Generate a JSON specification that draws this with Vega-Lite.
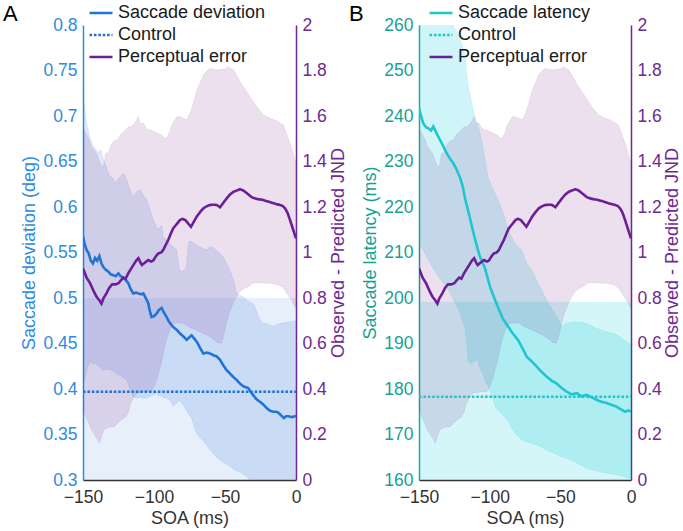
{
  "$schema": "https://vega.github.io/schema/vega-lite/v6.json",
  "padding": {"left": 3, "top": 0, "right": 0, "bottom": 0},
  "spacing": 123,
  "bounds": "flush",
  "config": {
    "font": "Liberation Sans",
    "view": {"stroke": null},
    "axis": {"labelFontSize": 17.5, "titleFontSize": 18, "titleFontWeight": "normal", "ticks": false, "grid": false, "domainWidth": 1.5, "labelPadding": 6, "labelOverlap": false, "labelFlush": false, "labelBound": false},
    "legend": {"orient": "none", "padding": 0, "offset": 0, "labelFontSize": 18, "labelColor": "#1a1a1a", "symbolSize": 529, "symbolStrokeWidth": 2.6, "rowPadding": -3, "labelOffset": 4, "titleOrient": "left", "titleAnchor": "start", "titleBaseline": "line-top", "titleLineHeight": 30, "titleFontSize": 22, "titleFontWeight": "normal", "titleColor": "#000"}
  },
  "resolve": {"scale": {"color": "independent", "strokeDash": "independent"}, "legend": {"color": "independent", "strokeDash": "independent"}},
  "datasets": {
    "ctrlBandA": [{"soa": -150, "lo": 0.294, "hi": 0.5}, {"soa": 0, "lo": 0.294, "hi": 0.5}],
    "ctrlA": [{"soa": -150, "value": 0.397, "series": "Control"}, {"soa": 0, "value": 0.397, "series": "Control"}],
    "ctrlBandB": [{"soa": -150, "lo": 157.4, "hi": 199.2}, {"soa": 0, "lo": 157.4, "hi": 199.2}],
    "ctrlB": [{"soa": -150, "value": 178.3, "series": "Control"}, {"soa": 0, "value": 178.3, "series": "Control"}],
    "devA": [
      {"soa": -150, "value": 0.568, "series": "Saccade deviation"}, {"soa": -149, "value": 0.56, "series": "Saccade deviation"}, {"soa": -147.5, "value": 0.553, "series": "Saccade deviation"}, {"soa": -146, "value": 0.549, "series": "Saccade deviation"}, {"soa": -144.5, "value": 0.541, "series": "Saccade deviation"}, {"soa": -143, "value": 0.538, "series": "Saccade deviation"}, {"soa": -141.5, "value": 0.544, "series": "Saccade deviation"}, {"soa": -140, "value": 0.541, "series": "Saccade deviation"}, {"soa": -138.5, "value": 0.546, "series": "Saccade deviation"}, {"soa": -137, "value": 0.538, "series": "Saccade deviation"}, {"soa": -135.7, "value": 0.534, "series": "Saccade deviation"}, {"soa": -134, "value": 0.531, "series": "Saccade deviation"}, {"soa": -132.2, "value": 0.529, "series": "Saccade deviation"}, {"soa": -130.5, "value": 0.526, "series": "Saccade deviation"}, {"soa": -128.7, "value": 0.525, "series": "Saccade deviation"}, {"soa": -127, "value": 0.524, "series": "Saccade deviation"}, {"soa": -125.1, "value": 0.527, "series": "Saccade deviation"}, {"soa": -123.5, "value": 0.524, "series": "Saccade deviation"}, {"soa": -121.6, "value": 0.522, "series": "Saccade deviation"}, {"soa": -120, "value": 0.52, "series": "Saccade deviation"}, {"soa": -118, "value": 0.516, "series": "Saccade deviation"}, {"soa": -116.5, "value": 0.51, "series": "Saccade deviation"}, {"soa": -114.6, "value": 0.505, "series": "Saccade deviation"}, {"soa": -112.5, "value": 0.506, "series": "Saccade deviation"}, {"soa": -111, "value": 0.505, "series": "Saccade deviation"}, {"soa": -109, "value": 0.504, "series": "Saccade deviation"}, {"soa": -107.5, "value": 0.505, "series": "Saccade deviation"}, {"soa": -105.5, "value": 0.499, "series": "Saccade deviation"}, {"soa": -104, "value": 0.494, "series": "Saccade deviation"}, {"soa": -103, "value": 0.486, "series": "Saccade deviation"}, {"soa": -101.7, "value": 0.479, "series": "Saccade deviation"}, {"soa": -100, "value": 0.48, "series": "Saccade deviation"}, {"soa": -98.1, "value": 0.483, "series": "Saccade deviation"}, {"soa": -96.5, "value": 0.487, "series": "Saccade deviation"}, {"soa": -94.6, "value": 0.489, "series": "Saccade deviation"}, {"soa": -93, "value": 0.484, "series": "Saccade deviation"}, {"soa": -91.1, "value": 0.479, "series": "Saccade deviation"}, {"soa": -89.5, "value": 0.474, "series": "Saccade deviation"}, {"soa": -87.5, "value": 0.47, "series": "Saccade deviation"}, {"soa": -86.4, "value": 0.468, "series": "Saccade deviation"}, {"soa": -84, "value": 0.465, "series": "Saccade deviation"}, {"soa": -81.7, "value": 0.461, "series": "Saccade deviation"}, {"soa": -79.5, "value": 0.458, "series": "Saccade deviation"}, {"soa": -77, "value": 0.454, "series": "Saccade deviation"}, {"soa": -75, "value": 0.457, "series": "Saccade deviation"}, {"soa": -73.5, "value": 0.459, "series": "Saccade deviation"}, {"soa": -71.5, "value": 0.455, "series": "Saccade deviation"}, {"soa": -69.9, "value": 0.452, "series": "Saccade deviation"}, {"soa": -67.5, "value": 0.445, "series": "Saccade deviation"}, {"soa": -65.3, "value": 0.439, "series": "Saccade deviation"}, {"soa": -63, "value": 0.44, "series": "Saccade deviation"}, {"soa": -60.6, "value": 0.439, "series": "Saccade deviation"}, {"soa": -58, "value": 0.437, "series": "Saccade deviation"}, {"soa": -55.9, "value": 0.436, "series": "Saccade deviation"}, {"soa": -53.5, "value": 0.432, "series": "Saccade deviation"}, {"soa": -51.2, "value": 0.426, "series": "Saccade deviation"}, {"soa": -49, "value": 0.421, "series": "Saccade deviation"}, {"soa": -46.5, "value": 0.417, "series": "Saccade deviation"}, {"soa": -44, "value": 0.413, "series": "Saccade deviation"}, {"soa": -41.8, "value": 0.41, "series": "Saccade deviation"}, {"soa": -39.5, "value": 0.406, "series": "Saccade deviation"}, {"soa": -37.1, "value": 0.403, "series": "Saccade deviation"}, {"soa": -35.5, "value": 0.402, "series": "Saccade deviation"}, {"soa": -33.6, "value": 0.401, "series": "Saccade deviation"}, {"soa": -32, "value": 0.397, "series": "Saccade deviation"}, {"soa": -30, "value": 0.393, "series": "Saccade deviation"}, {"soa": -28, "value": 0.389, "series": "Saccade deviation"}, {"soa": -25.4, "value": 0.386, "series": "Saccade deviation"}, {"soa": -23, "value": 0.383, "series": "Saccade deviation"}, {"soa": -20.6, "value": 0.379, "series": "Saccade deviation"}, {"soa": -18.3, "value": 0.376, "series": "Saccade deviation"}, {"soa": -16, "value": 0.375, "series": "Saccade deviation"}, {"soa": -14, "value": 0.375, "series": "Saccade deviation"}, {"soa": -12.4, "value": 0.374, "series": "Saccade deviation"}, {"soa": -10.5, "value": 0.371, "series": "Saccade deviation"}, {"soa": -8.5, "value": 0.368, "series": "Saccade deviation"}, {"soa": -7, "value": 0.37, "series": "Saccade deviation"}, {"soa": -5.4, "value": 0.37, "series": "Saccade deviation"}, {"soa": -3, "value": 0.369, "series": "Saccade deviation"}, {"soa": -0.7, "value": 0.37, "series": "Saccade deviation"}, {"soa": 0, "value": 0.371, "series": "Saccade deviation"}
    ],
    "devCI": [
      {"soa": -150, "hi": 0.73, "lo": 0.408}, {"soa": -149, "hi": 0.71, "lo": 0.41}, {"soa": -147.5, "hi": 0.692, "lo": 0.42}, {"soa": -145.3, "hi": 0.677, "lo": 0.43}, {"soa": -143.5, "hi": 0.668, "lo": 0.428}, {"soa": -141.5, "hi": 0.664, "lo": 0.428}, {"soa": -139, "hi": 0.66, "lo": 0.425}, {"soa": -137.4, "hi": 0.663, "lo": 0.424}, {"soa": -135.5, "hi": 0.652, "lo": 0.42}, {"soa": -134, "hi": 0.645, "lo": 0.422}, {"soa": -131, "hi": 0.633, "lo": 0.421}, {"soa": -129, "hi": 0.632, "lo": 0.42}, {"soa": -127.5, "hi": 0.626, "lo": 0.418}, {"soa": -124, "hi": 0.633, "lo": 0.415}, {"soa": -121.6, "hi": 0.637, "lo": 0.412}, {"soa": -119.2, "hi": 0.63, "lo": 0.41}, {"soa": -116.9, "hi": 0.619, "lo": 0.4}, {"soa": -114.6, "hi": 0.611, "lo": 0.392}, {"soa": -112.2, "hi": 0.617, "lo": 0.39}, {"soa": -109.9, "hi": 0.619, "lo": 0.391}, {"soa": -107.5, "hi": 0.613, "lo": 0.39}, {"soa": -105.1, "hi": 0.608, "lo": 0.39}, {"soa": -102.8, "hi": 0.597, "lo": 0.392}, {"soa": -100.5, "hi": 0.586, "lo": 0.394}, {"soa": -98.1, "hi": 0.578, "lo": 0.395}, {"soa": -97, "hi": 0.575, "lo": 0.393}, {"soa": -94.6, "hi": 0.58, "lo": 0.392}, {"soa": -93.5, "hi": 0.567, "lo": 0.391}, {"soa": -91, "hi": 0.564, "lo": 0.39}, {"soa": -88.7, "hi": 0.56, "lo": 0.388}, {"soa": -86.4, "hi": 0.556, "lo": 0.381}, {"soa": -84, "hi": 0.553, "lo": 0.385}, {"soa": -82.2, "hi": 0.531, "lo": 0.388}, {"soa": -80.5, "hi": 0.529, "lo": 0.385}, {"soa": -77.5, "hi": 0.532, "lo": 0.378}, {"soa": -75.5, "hi": 0.562, "lo": 0.372}, {"soa": -73.5, "hi": 0.562, "lo": 0.368}, {"soa": -70, "hi": 0.558, "lo": 0.351}, {"soa": -66, "hi": 0.555, "lo": 0.344}, {"soa": -62.9, "hi": 0.553, "lo": 0.338}, {"soa": -60.6, "hi": 0.556, "lo": 0.333}, {"soa": -58.2, "hi": 0.555, "lo": 0.329}, {"soa": -55.9, "hi": 0.552, "lo": 0.325}, {"soa": -53.5, "hi": 0.549, "lo": 0.322}, {"soa": -51, "hi": 0.544, "lo": 0.319}, {"soa": -48.8, "hi": 0.538, "lo": 0.317}, {"soa": -46.5, "hi": 0.53, "lo": 0.315}, {"soa": -44.1, "hi": 0.52, "lo": 0.312}, {"soa": -41.8, "hi": 0.505, "lo": 0.31}, {"soa": -39.4, "hi": 0.503, "lo": 0.309}, {"soa": -37.1, "hi": 0.501, "lo": 0.306}, {"soa": -34, "hi": 0.497, "lo": 0.303}, {"soa": -32.4, "hi": 0.495, "lo": 0.3}, {"soa": -30, "hi": 0.494, "lo": 0.297}, {"soa": -27.7, "hi": 0.485, "lo": 0.294}, {"soa": -25.4, "hi": 0.476, "lo": 0.291}, {"soa": -23, "hi": 0.472, "lo": 0.288}, {"soa": -20.6, "hi": 0.472, "lo": 0.286}, {"soa": -18.3, "hi": 0.47, "lo": 0.284}, {"soa": -16, "hi": 0.469, "lo": 0.282}, {"soa": -13.7, "hi": 0.471, "lo": 0.28}, {"soa": -11.3, "hi": 0.472, "lo": 0.279}, {"soa": -7, "hi": 0.473, "lo": 0.277}, {"soa": -4, "hi": 0.474, "lo": 0.276}, {"soa": -1.9, "hi": 0.474, "lo": 0.275}, {"soa": 0, "hi": 0.475, "lo": 0.275}
    ],
    "perc": [
      {"soa": -150, "value": 0.93, "series": "Perceptual error"}, {"soa": -147.5, "value": 0.89, "series": "Perceptual error"}, {"soa": -145, "value": 0.865, "series": "Perceptual error"}, {"soa": -142.5, "value": 0.83, "series": "Perceptual error"}, {"soa": -140.5, "value": 0.806, "series": "Perceptual error"}, {"soa": -138.5, "value": 0.79, "series": "Perceptual error"}, {"soa": -137, "value": 0.775, "series": "Perceptual error"}, {"soa": -135.5, "value": 0.8, "series": "Perceptual error"}, {"soa": -133.5, "value": 0.82, "series": "Perceptual error"}, {"soa": -131.5, "value": 0.845, "series": "Perceptual error"}, {"soa": -129.5, "value": 0.86, "series": "Perceptual error"}, {"soa": -127, "value": 0.86, "series": "Perceptual error"}, {"soa": -125, "value": 0.865, "series": "Perceptual error"}, {"soa": -123, "value": 0.88, "series": "Perceptual error"}, {"soa": -121.5, "value": 0.89, "series": "Perceptual error"}, {"soa": -120, "value": 0.885, "series": "Perceptual error"}, {"soa": -118, "value": 0.91, "series": "Perceptual error"}, {"soa": -116, "value": 0.93, "series": "Perceptual error"}, {"soa": -114.5, "value": 0.945, "series": "Perceptual error"}, {"soa": -112.5, "value": 0.965, "series": "Perceptual error"}, {"soa": -111, "value": 0.975, "series": "Perceptual error"}, {"soa": -109.5, "value": 0.955, "series": "Perceptual error"}, {"soa": -108.5, "value": 0.945, "series": "Perceptual error"}, {"soa": -106.5, "value": 0.955, "series": "Perceptual error"}, {"soa": -104, "value": 0.967, "series": "Perceptual error"}, {"soa": -102, "value": 0.96, "series": "Perceptual error"}, {"soa": -100.5, "value": 0.965, "series": "Perceptual error"}, {"soa": -98.5, "value": 0.985, "series": "Perceptual error"}, {"soa": -97, "value": 0.996, "series": "Perceptual error"}, {"soa": -95, "value": 1.0, "series": "Perceptual error"}, {"soa": -93.5, "value": 1.011, "series": "Perceptual error"}, {"soa": -92, "value": 1.03, "series": "Perceptual error"}, {"soa": -90, "value": 1.055, "series": "Perceptual error"}, {"soa": -88, "value": 1.085, "series": "Perceptual error"}, {"soa": -86.5, "value": 1.106, "series": "Perceptual error"}, {"soa": -84, "value": 1.125, "series": "Perceptual error"}, {"soa": -81.7, "value": 1.143, "series": "Perceptual error"}, {"soa": -80, "value": 1.148, "series": "Perceptual error"}, {"soa": -78, "value": 1.143, "series": "Perceptual error"}, {"soa": -76, "value": 1.128, "series": "Perceptual error"}, {"soa": -74, "value": 1.113, "series": "Perceptual error"}, {"soa": -72, "value": 1.135, "series": "Perceptual error"}, {"soa": -70, "value": 1.157, "series": "Perceptual error"}, {"soa": -67.5, "value": 1.178, "series": "Perceptual error"}, {"soa": -65.3, "value": 1.194, "series": "Perceptual error"}, {"soa": -63, "value": 1.203, "series": "Perceptual error"}, {"soa": -60.6, "value": 1.209, "series": "Perceptual error"}, {"soa": -58, "value": 1.21, "series": "Perceptual error"}, {"soa": -55.9, "value": 1.209, "series": "Perceptual error"}, {"soa": -53.5, "value": 1.199, "series": "Perceptual error"}, {"soa": -51, "value": 1.22, "series": "Perceptual error"}, {"soa": -48.8, "value": 1.238, "series": "Perceptual error"}, {"soa": -46.5, "value": 1.255, "series": "Perceptual error"}, {"soa": -44, "value": 1.267, "series": "Perceptual error"}, {"soa": -41.5, "value": 1.273, "series": "Perceptual error"}, {"soa": -39.4, "value": 1.278, "series": "Perceptual error"}, {"soa": -37.5, "value": 1.274, "series": "Perceptual error"}, {"soa": -35.9, "value": 1.267, "series": "Perceptual error"}, {"soa": -33.5, "value": 1.255, "series": "Perceptual error"}, {"soa": -31.2, "value": 1.243, "series": "Perceptual error"}, {"soa": -29, "value": 1.238, "series": "Perceptual error"}, {"soa": -26.5, "value": 1.234, "series": "Perceptual error"}, {"soa": -24, "value": 1.232, "series": "Perceptual error"}, {"soa": -21.8, "value": 1.228, "series": "Perceptual error"}, {"soa": -19.5, "value": 1.224, "series": "Perceptual error"}, {"soa": -17.1, "value": 1.219, "series": "Perceptual error"}, {"soa": -14, "value": 1.213, "series": "Perceptual error"}, {"soa": -11.3, "value": 1.209, "series": "Perceptual error"}, {"soa": -9.5, "value": 1.205, "series": "Perceptual error"}, {"soa": -7.7, "value": 1.194, "series": "Perceptual error"}, {"soa": -6, "value": 1.175, "series": "Perceptual error"}, {"soa": -4.2, "value": 1.143, "series": "Perceptual error"}, {"soa": -2, "value": 1.1, "series": "Perceptual error"}, {"soa": 0, "value": 1.062, "series": "Perceptual error"}
    ],
    "percCI": [
      {"soa": -150, "hi": 1.54, "lo": 0.31}, {"soa": -148, "hi": 1.525, "lo": 0.28}, {"soa": -146, "hi": 1.5, "lo": 0.25}, {"soa": -144, "hi": 1.465, "lo": 0.22}, {"soa": -142, "hi": 1.45, "lo": 0.2}, {"soa": -140, "hi": 1.43, "lo": 0.18}, {"soa": -138.5, "hi": 1.4, "lo": 0.162}, {"soa": -137, "hi": 1.38, "lo": 0.19}, {"soa": -135.5, "hi": 1.38, "lo": 0.22}, {"soa": -134, "hi": 1.436, "lo": 0.225}, {"soa": -132, "hi": 1.44, "lo": 0.232}, {"soa": -130.4, "hi": 1.473, "lo": 0.234}, {"soa": -128, "hi": 1.49, "lo": 0.234}, {"soa": -125.7, "hi": 1.495, "lo": 0.25}, {"soa": -123.3, "hi": 1.52, "lo": 0.264}, {"soa": -121.6, "hi": 1.53, "lo": 0.27}, {"soa": -119.8, "hi": 1.54, "lo": 0.278}, {"soa": -118, "hi": 1.553, "lo": 0.3}, {"soa": -116.9, "hi": 1.55, "lo": 0.33}, {"soa": -114.6, "hi": 1.56, "lo": 0.36}, {"soa": -112.5, "hi": 1.58, "lo": 0.38}, {"soa": -111, "hi": 1.597, "lo": 0.383}, {"soa": -109.9, "hi": 1.568, "lo": 0.385}, {"soa": -107.5, "hi": 1.568, "lo": 0.386}, {"soa": -106.3, "hi": 1.553, "lo": 0.388}, {"soa": -104, "hi": 1.54, "lo": 0.388}, {"soa": -102.1, "hi": 1.538, "lo": 0.388}, {"soa": -100, "hi": 1.53, "lo": 0.41}, {"soa": -98.1, "hi": 1.528, "lo": 0.44}, {"soa": -96.2, "hi": 1.52, "lo": 0.484}, {"soa": -94.6, "hi": 1.516, "lo": 0.52}, {"soa": -92.5, "hi": 1.502, "lo": 0.586}, {"soa": -91, "hi": 1.502, "lo": 0.62}, {"soa": -89, "hi": 1.53, "lo": 0.659}, {"soa": -87.5, "hi": 1.56, "lo": 0.675}, {"soa": -86, "hi": 1.575, "lo": 0.689}, {"soa": -84, "hi": 1.597, "lo": 0.69}, {"soa": -81.7, "hi": 1.597, "lo": 0.69}, {"soa": -79.4, "hi": 1.59, "lo": 0.689}, {"soa": -77, "hi": 1.582, "lo": 0.68}, {"soa": -74.6, "hi": 1.612, "lo": 0.67}, {"soa": -72.3, "hi": 1.656, "lo": 0.665}, {"soa": -70, "hi": 1.71, "lo": 0.659}, {"soa": -68.8, "hi": 1.729, "lo": 0.655}, {"soa": -65.3, "hi": 1.78, "lo": 0.645}, {"soa": -62.5, "hi": 1.8, "lo": 0.637}, {"soa": -60.6, "hi": 1.81, "lo": 0.63}, {"soa": -58, "hi": 1.805, "lo": 0.62}, {"soa": -55.9, "hi": 1.802, "lo": 0.605}, {"soa": -52.6, "hi": 1.805, "lo": 0.601}, {"soa": -51.2, "hi": 1.805, "lo": 0.63}, {"soa": -49, "hi": 1.81, "lo": 0.689}, {"soa": -47.7, "hi": 1.817, "lo": 0.72}, {"soa": -46, "hi": 1.81, "lo": 0.75}, {"soa": -44.1, "hi": 1.802, "lo": 0.78}, {"soa": -43.2, "hi": 1.795, "lo": 0.791}, {"soa": -40.6, "hi": 1.766, "lo": 0.82}, {"soa": -38.4, "hi": 1.74, "lo": 0.835}, {"soa": -37.1, "hi": 1.729, "lo": 0.84}, {"soa": -34, "hi": 1.7, "lo": 0.85}, {"soa": -32.4, "hi": 1.685, "lo": 0.855}, {"soa": -31.3, "hi": 1.675, "lo": 0.865}, {"soa": -27.7, "hi": 1.641, "lo": 0.867}, {"soa": -23, "hi": 1.604, "lo": 0.866}, {"soa": -18.3, "hi": 1.59, "lo": 0.865}, {"soa": -17.2, "hi": 1.588, "lo": 0.865}, {"soa": -12.5, "hi": 1.575, "lo": 0.858}, {"soa": -10.1, "hi": 1.565, "lo": 0.85}, {"soa": -8.9, "hi": 1.56, "lo": 0.845}, {"soa": -6.5, "hi": 1.52, "lo": 0.82}, {"soa": -4.2, "hi": 1.48, "lo": 0.8}, {"soa": -3.1, "hi": 1.46, "lo": 0.791}, {"soa": -0.7, "hi": 1.407, "lo": 0.76}, {"soa": 0, "hi": 1.4, "lo": 0.755}
    ],
    "lat": [
      {"soa": -150, "value": 242, "series": "Saccade latency"}, {"soa": -149, "value": 240.5, "series": "Saccade latency"}, {"soa": -147, "value": 238.4, "series": "Saccade latency"}, {"soa": -145, "value": 237.5, "series": "Saccade latency"}, {"soa": -143.4, "value": 237.3, "series": "Saccade latency"}, {"soa": -141.5, "value": 236.8, "series": "Saccade latency"}, {"soa": -139.9, "value": 237.7, "series": "Saccade latency"}, {"soa": -138, "value": 236.5, "series": "Saccade latency"}, {"soa": -135.1, "value": 234.7, "series": "Saccade latency"}, {"soa": -133, "value": 233.5, "series": "Saccade latency"}, {"soa": -130.4, "value": 231.8, "series": "Saccade latency"}, {"soa": -128, "value": 230.6, "series": "Saccade latency"}, {"soa": -125.7, "value": 229.6, "series": "Saccade latency"}, {"soa": -123.5, "value": 228.3, "series": "Saccade latency"}, {"soa": -121, "value": 226.5, "series": "Saccade latency"}, {"soa": -119, "value": 224.5, "series": "Saccade latency"}, {"soa": -117.5, "value": 222, "series": "Saccade latency"}, {"soa": -115.5, "value": 219.5, "series": "Saccade latency"}, {"soa": -113.9, "value": 217.5, "series": "Saccade latency"}, {"soa": -112, "value": 215, "series": "Saccade latency"}, {"soa": -110.4, "value": 213, "series": "Saccade latency"}, {"soa": -108.5, "value": 210.8, "series": "Saccade latency"}, {"soa": -106.8, "value": 209, "series": "Saccade latency"}, {"soa": -105, "value": 207.8, "series": "Saccade latency"}, {"soa": -103.3, "value": 206.5, "series": "Saccade latency"}, {"soa": -101.5, "value": 204.5, "series": "Saccade latency"}, {"soa": -99.8, "value": 202.5, "series": "Saccade latency"}, {"soa": -98, "value": 201, "series": "Saccade latency"}, {"soa": -96.2, "value": 199.6, "series": "Saccade latency"}, {"soa": -93.5, "value": 197.5, "series": "Saccade latency"}, {"soa": -90.4, "value": 195.3, "series": "Saccade latency"}, {"soa": -87, "value": 193.8, "series": "Saccade latency"}, {"soa": -84.4, "value": 192.5, "series": "Saccade latency"}, {"soa": -80, "value": 190.8, "series": "Saccade latency"}, {"soa": -76, "value": 188.5, "series": "Saccade latency"}, {"soa": -73.8, "value": 187.1, "series": "Saccade latency"}, {"soa": -70, "value": 186, "series": "Saccade latency"}, {"soa": -66.7, "value": 184.9, "series": "Saccade latency"}, {"soa": -63, "value": 183.7, "series": "Saccade latency"}, {"soa": -59.6, "value": 182.7, "series": "Saccade latency"}, {"soa": -56, "value": 181.8, "series": "Saccade latency"}, {"soa": -52.6, "value": 181.2, "series": "Saccade latency"}, {"soa": -49, "value": 180.2, "series": "Saccade latency"}, {"soa": -45.5, "value": 179.4, "series": "Saccade latency"}, {"soa": -42, "value": 178.8, "series": "Saccade latency"}, {"soa": -38.4, "value": 179.1, "series": "Saccade latency"}, {"soa": -35, "value": 178.4, "series": "Saccade latency"}, {"soa": -31.3, "value": 178.7, "series": "Saccade latency"}, {"soa": -28, "value": 178.2, "series": "Saccade latency"}, {"soa": -24.3, "value": 177.6, "series": "Saccade latency"}, {"soa": -21, "value": 177.2, "series": "Saccade latency"}, {"soa": -17.2, "value": 176.9, "series": "Saccade latency"}, {"soa": -13.5, "value": 176.5, "series": "Saccade latency"}, {"soa": -10.1, "value": 176.1, "series": "Saccade latency"}, {"soa": -7, "value": 175.5, "series": "Saccade latency"}, {"soa": -4.2, "value": 175, "series": "Saccade latency"}, {"soa": -2, "value": 175.3, "series": "Saccade latency"}, {"soa": 0, "value": 175, "series": "Saccade latency"}
    ],
    "latCI": [
      {"soa": -150, "hi": 263, "lo": 212.3}, {"soa": -145, "hi": 263, "lo": 209.3}, {"soa": -140, "hi": 263, "lo": 206.5}, {"soa": -135, "hi": 263, "lo": 204.2}, {"soa": -130, "hi": 262.5, "lo": 202.2}, {"soa": -127, "hi": 261, "lo": 200.5}, {"soa": -125, "hi": 259.5, "lo": 199.3}, {"soa": -122, "hi": 257.8, "lo": 197.5}, {"soa": -119.5, "hi": 255.5, "lo": 195.3}, {"soa": -117.5, "hi": 253.8, "lo": 193.7}, {"soa": -116.5, "hi": 250, "lo": 190.5}, {"soa": -115, "hi": 246.4, "lo": 186}, {"soa": -112.7, "hi": 242.8, "lo": 185.6}, {"soa": -110.4, "hi": 239.8, "lo": 186.2}, {"soa": -108.5, "hi": 238, "lo": 186.4}, {"soa": -106.8, "hi": 236.2, "lo": 184.5}, {"soa": -105, "hi": 233.5, "lo": 183.4}, {"soa": -103.3, "hi": 230.3, "lo": 182}, {"soa": -101, "hi": 226.5, "lo": 180.5}, {"soa": -98.6, "hi": 224.5, "lo": 178.7}, {"soa": -97.4, "hi": 223.7, "lo": 177.5}, {"soa": -96, "hi": 222.8, "lo": 176.1}, {"soa": -93.9, "hi": 221.5, "lo": 175.3}, {"soa": -90.3, "hi": 218.6, "lo": 174.2}, {"soa": -86.8, "hi": 214.9, "lo": 172.8}, {"soa": -82.1, "hi": 212, "lo": 170.3}, {"soa": -77.3, "hi": 210.5, "lo": 168.8}, {"soa": -73.8, "hi": 207.6, "lo": 168.4}, {"soa": -70.3, "hi": 206.2, "lo": 168.1}, {"soa": -65.6, "hi": 203.2, "lo": 167.6}, {"soa": -62, "hi": 201, "lo": 167}, {"soa": -58.5, "hi": 198.8, "lo": 166.4}, {"soa": -53.8, "hi": 196.6, "lo": 165.8}, {"soa": -49, "hi": 193.7, "lo": 165.1}, {"soa": -45, "hi": 194.5, "lo": 164.7}, {"soa": -40.8, "hi": 194.8, "lo": 164.2}, {"soa": -35, "hi": 194.6, "lo": 163.2}, {"soa": -31.3, "hi": 194.4, "lo": 162.6}, {"soa": -24.3, "hi": 193.3, "lo": 162}, {"soa": -17.2, "hi": 192.6, "lo": 161.5}, {"soa": -10.1, "hi": 191.9, "lo": 161.2}, {"soa": -3.1, "hi": 190.4, "lo": 160.6}, {"soa": 0, "hi": 189.7, "lo": 160.3}
    ]
  },
  "hconcat": [
    {
      "width": 213,
      "height": 455,
      "encoding": {
        "x": {"field": "soa", "type": "quantitative", "scale": {"domain": [-150, 0], "nice": false, "zero": false},
              "axis": {"values": [-150, -100, -50, 0], "format": "d", "title": "SOA (ms)", "domainColor": "#333333", "labelColor": "#333333", "titleColor": "#333333", "labelPadding": 8, "titlePadding": 4}}
      },
      "layer": [
        {
          "encoding": {
            "y": {"field": "lo", "type": "quantitative", "scale": {"domain": [0.3, 0.8], "nice": false, "zero": false},
                  "axis": {"orient": "left", "values": [0.3, 0.35, 0.4, 0.45, 0.5, 0.55, 0.6, 0.65, 0.7, 0.75, 0.8], "format": ".2~f", "title": "Saccade deviation (deg)", "domainColor": "#2f8be0", "labelColor": "#2f8be0", "titleColor": "#2f8be0", "titlePadding": 4}},
            "y2": {"field": "hi"}
          },
          "layer": [
            {"data": {"name": "ctrlBandA"}, "mark": {"type": "area", "clip": true, "color": "#3d7be0", "opacity": 1, "fillOpacity": 0.12}},
            {"data": {"name": "devCI"}, "mark": {"type": "area", "clip": true, "color": "#3d7be0", "opacity": 1, "fillOpacity": 0.17, "stroke": "#3d7be0", "strokeWidth": 0.5, "strokeOpacity": 0.25}}
          ]
        },
        {
          "data": {"name": "percCI"},
          "mark": {"type": "area", "clip": true, "color": "#7e2f8e", "opacity": 1, "fillOpacity": 0.15, "stroke": "#7e2f8e", "strokeWidth": 0.5, "strokeOpacity": 0.2},
          "encoding": {
            "y": {"field": "lo", "type": "quantitative", "scale": {"domain": [0, 2], "nice": false, "zero": false},
                  "axis": {"orient": "right", "values": [0, 0.2, 0.4, 0.6, 0.8, 1, 1.2, 1.4, 1.6, 1.8, 2], "format": ".1~f", "title": "Observed - Predicted JND", "titleAngle": -90, "titleBaseline": "top", "domainColor": "#6e2a93", "labelColor": "#6e2a93", "titleColor": "#6e2a93", "titlePadding": 3}},
            "y2": {"field": "hi"}
          }
        },
        {
          "encoding": {
            "y": {"field": "value", "type": "quantitative", "scale": {"domain": [0.3, 0.8], "nice": false, "zero": false}, "axis": null},
            "color": {"field": "series", "type": "nominal", "scale": {"domain": ["Saccade deviation", "Control", "Perceptual error"], "range": ["#1f74d6", "#1f74d6", "#6a1f96"]},
                      "legend": {"title": "A", "legendX": -80, "legendY": -25, "titlePadding": 70}},
            "strokeDash": {"field": "series", "type": "nominal", "scale": {"domain": ["Saccade deviation", "Control", "Perceptual error"], "range": [[1, 0], [2.6, 1.8], [1, 0]]},
                      "legend": {"title": "A", "legendX": -80, "legendY": -25, "titlePadding": 70}}
          },
          "layer": [
            {"data": {"name": "devA"}, "mark": {"type": "line", "clip": true, "strokeWidth": 2.6}},
            {"data": {"name": "ctrlA"}, "mark": {"type": "line", "clip": true, "strokeWidth": 2.6}}
          ]
        },
        {
          "data": {"name": "perc"},
          "mark": {"type": "line", "clip": true, "strokeWidth": 2.6},
          "encoding": {
            "y": {"field": "value", "type": "quantitative", "scale": {"domain": [0, 2], "nice": false, "zero": false}, "axis": null},
            "color": {"field": "series", "type": "nominal", "scale": {"domain": ["Saccade deviation", "Control", "Perceptual error"], "range": ["#1f74d6", "#1f74d6", "#6a1f96"]},
                      "legend": {"title": "A", "legendX": -80, "legendY": -25, "titlePadding": 70}},
            "strokeDash": {"field": "series", "type": "nominal", "scale": {"domain": ["Saccade deviation", "Control", "Perceptual error"], "range": [[1, 0], [2.6, 1.8], [1, 0]]},
                      "legend": {"title": "A", "legendX": -80, "legendY": -25, "titlePadding": 70}}
          }
        }
      ],
      "resolve": {"scale": {"y": "independent"}}
    },
    {
      "width": 212,
      "height": 455,
      "encoding": {
        "x": {"field": "soa", "type": "quantitative", "scale": {"domain": [-150, 0], "nice": false, "zero": false},
              "axis": {"values": [-150, -100, -50, 0], "format": "d", "title": "SOA (ms)", "domainColor": "#333333", "labelColor": "#333333", "titleColor": "#333333", "labelPadding": 8, "titlePadding": 4}}
      },
      "layer": [
        {
          "encoding": {
            "y": {"field": "lo", "type": "quantitative", "scale": {"domain": [160, 260], "nice": false, "zero": false},
                  "axis": {"orient": "left", "values": [160, 170, 180, 190, 200, 210, 220, 230, 240, 250, 260], "format": "d", "title": "Saccade latency (ms)", "domainColor": "#18a195", "labelColor": "#18a195", "titleColor": "#18a195", "titlePadding": 4}},
            "y2": {"field": "hi"}
          },
          "layer": [
            {"data": {"name": "ctrlBandB"}, "mark": {"type": "area", "clip": true, "color": "#2ad3de", "opacity": 1, "fillOpacity": 0.2}},
            {"data": {"name": "latCI"}, "mark": {"type": "area", "clip": true, "color": "#2ad3de", "opacity": 1, "fillOpacity": 0.22, "stroke": "#2ad3de", "strokeWidth": 0.5, "strokeOpacity": 0.3}}
          ]
        },
        {
          "data": {"name": "percCI"},
          "mark": {"type": "area", "clip": true, "color": "#7e2f8e", "opacity": 1, "fillOpacity": 0.15, "stroke": "#7e2f8e", "strokeWidth": 0.5, "strokeOpacity": 0.2},
          "encoding": {
            "y": {"field": "lo", "type": "quantitative", "scale": {"domain": [0, 2], "nice": false, "zero": false},
                  "axis": {"orient": "right", "values": [0, 0.2, 0.4, 0.6, 0.8, 1, 1.2, 1.4, 1.6, 1.8, 2], "format": ".1~f", "title": "Observed - Predicted JND", "titleAngle": -90, "titleBaseline": "top", "domainColor": "#6e2a93", "labelColor": "#6e2a93", "titleColor": "#6e2a93", "titlePadding": 2}},
            "y2": {"field": "hi"}
          }
        },
        {
          "encoding": {
            "y": {"field": "value", "type": "quantitative", "scale": {"domain": [160, 260], "nice": false, "zero": false}, "axis": null},
            "color": {"field": "series", "type": "nominal", "scale": {"domain": ["Saccade latency", "Control", "Perceptual error"], "range": ["#20c6cf", "#20c6cf", "#6a1f96"]},
                      "legend": {"title": "B", "legendX": -70, "legendY": -25, "titlePadding": 64}},
            "strokeDash": {"field": "series", "type": "nominal", "scale": {"domain": ["Saccade latency", "Control", "Perceptual error"], "range": [[1, 0], [2.6, 1.8], [1, 0]]},
                      "legend": {"title": "B", "legendX": -70, "legendY": -25, "titlePadding": 64}}
          },
          "layer": [
            {"data": {"name": "lat"}, "mark": {"type": "line", "clip": true, "strokeWidth": 2.6}},
            {"data": {"name": "ctrlB"}, "mark": {"type": "line", "clip": true, "strokeWidth": 2.6}}
          ]
        },
        {
          "data": {"name": "perc"},
          "mark": {"type": "line", "clip": true, "strokeWidth": 2.6},
          "encoding": {
            "y": {"field": "value", "type": "quantitative", "scale": {"domain": [0, 2], "nice": false, "zero": false}, "axis": null},
            "color": {"field": "series", "type": "nominal", "scale": {"domain": ["Saccade latency", "Control", "Perceptual error"], "range": ["#20c6cf", "#20c6cf", "#6a1f96"]},
                      "legend": {"title": "B", "legendX": -70, "legendY": -25, "titlePadding": 64}},
            "strokeDash": {"field": "series", "type": "nominal", "scale": {"domain": ["Saccade latency", "Control", "Perceptual error"], "range": [[1, 0], [2.6, 1.8], [1, 0]]},
                      "legend": {"title": "B", "legendX": -70, "legendY": -25, "titlePadding": 64}}
          }
        }
      ],
      "resolve": {"scale": {"y": "independent"}}
    }
  ]
}
